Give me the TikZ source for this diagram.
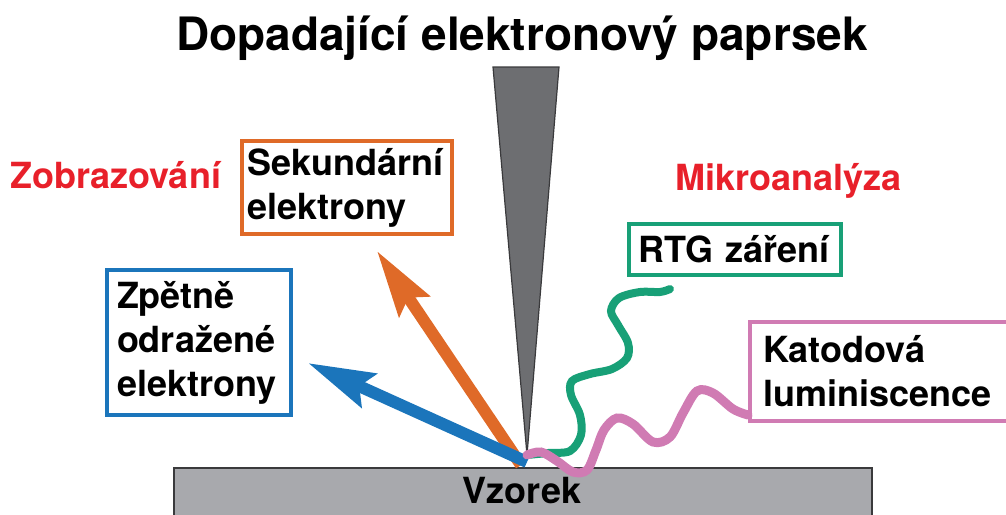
\documentclass[tikz,border=0pt]{standalone}
\usepackage{fontspec}
\setmainfont{TeX Gyre Heros}
\usetikzlibrary{arrows.meta,calc}
\definecolor{corange}{HTML}{DF6A28}
\definecolor{cblue}{HTML}{1B75BB}
\definecolor{cgreen}{HTML}{18A077}
\definecolor{cpink}{HTML}{D07BB3}
\definecolor{cred}{HTML}{E8202A}
\definecolor{beamgray}{HTML}{6D6E71}
\definecolor{samplegray}{HTML}{A8A9AD}
\definecolor{edgegray}{HTML}{3A3A3C}
\hyphenpenalty=10000\relax
\begin{document}
\begin{tikzpicture}[x=1pt,y=-1pt,
  lbl/.style={font=\fontsize{36}{44}\selectfont\bfseries, inner sep=0pt},
  box/.style={draw, line width=4pt, fill=white, align=left, inner ysep=0pt,
    font=\fontsize{36}{44}\selectfont\bfseries},
  ray/.style={line width=12pt, -{Stealth[length=66pt,width=36pt,inset=10pt]}},
  wave/.style={line width=8pt, line cap=round}
]
\useasboundingbox (0,0) rectangle (1006,514);
\clip (0,0) rectangle (1006,514);

% title
\node[lbl, font=\fontsize{46}{50}\selectfont\bfseries, anchor=base] (title) at (522,50) {Dopadající elektronový paprsek};

% sample
\node[draw=edgegray, line width=1.5pt, fill=samplegray, minimum width=698pt, minimum height=70pt, anchor=north, inner sep=0pt] (sample) at (523,467) {};
\node[lbl, anchor=base] (vzorek) at (522,503) {Vzorek};

% category labels
\node[lbl, text=cred, anchor=base west] (zob) at (10,188) {Zobrazování};
\node[lbl, text=cred, anchor=base west] (mikro) at (675,190) {Mikroanalýza};

% boxes
\node[box, draw=corange, minimum width=210pt, minimum height=93pt, text width=200pt, inner xsep=5pt] (sek) at (347,187.5) {Sekundární\\elektrony};
\node[box, draw=cblue, minimum width=184pt, minimum height=145pt, text width=164pt, inner xsep=10pt] (zpet) at (199,342.5) {Zpětně\\odražené\\elektrony};
\node[box, draw=cgreen, minimum width=212pt, minimum height=51pt, text width=194pt, inner xsep=9pt] (rtg) at (735,249.5) {RTG~záření};
\node[box, draw=cpink, minimum width=280pt, minimum height=99pt, text width=254pt, inner xsep=13pt] (kat) at (890,371.5) {Katodová\\luminiscence};

% coordinates
\coordinate (apex) at (527,455);
\coordinate (obase) at (521,465);
\coordinate (bbase) at (527,462);
\coordinate (otip) at (377,251);
\coordinate (btip) at (308,363);
\coordinate (gend) at (670,289);
\coordinate (kend) at ($(kat.south west)+(0,-8)$);

% rays
\draw[ray, corange] (obase) -- (otip);
\draw[ray, cblue] (bbase) -- (btip);

% beam
\draw[fill=beamgray, draw=edgegray, line width=1.2pt, line join=miter] (493,67) -- (559,67) -- (apex) -- cycle;

% waves
\draw[wave, cgreen] plot[smooth, tension=0.55] coordinates {(apex) (548,453) (570,451) (581,435) (580,415) (571,395) (572,381) (590,374) (612,369) (627,358) (628,343) (618,325) (611,311) (619,298) (640,292) (660,292) (gend)};
\draw[wave, cpink, line width=9pt] plot[smooth, tension=0.55] coordinates {(apex) (541,452) (557,461) (573,472) (587,470) (596,450) (604,430) (617,418) (633,424) (653,442) (670,437) (683,413) (697,391) (713,393) (733,409) (kend)};
\end{tikzpicture}
\end{document}
